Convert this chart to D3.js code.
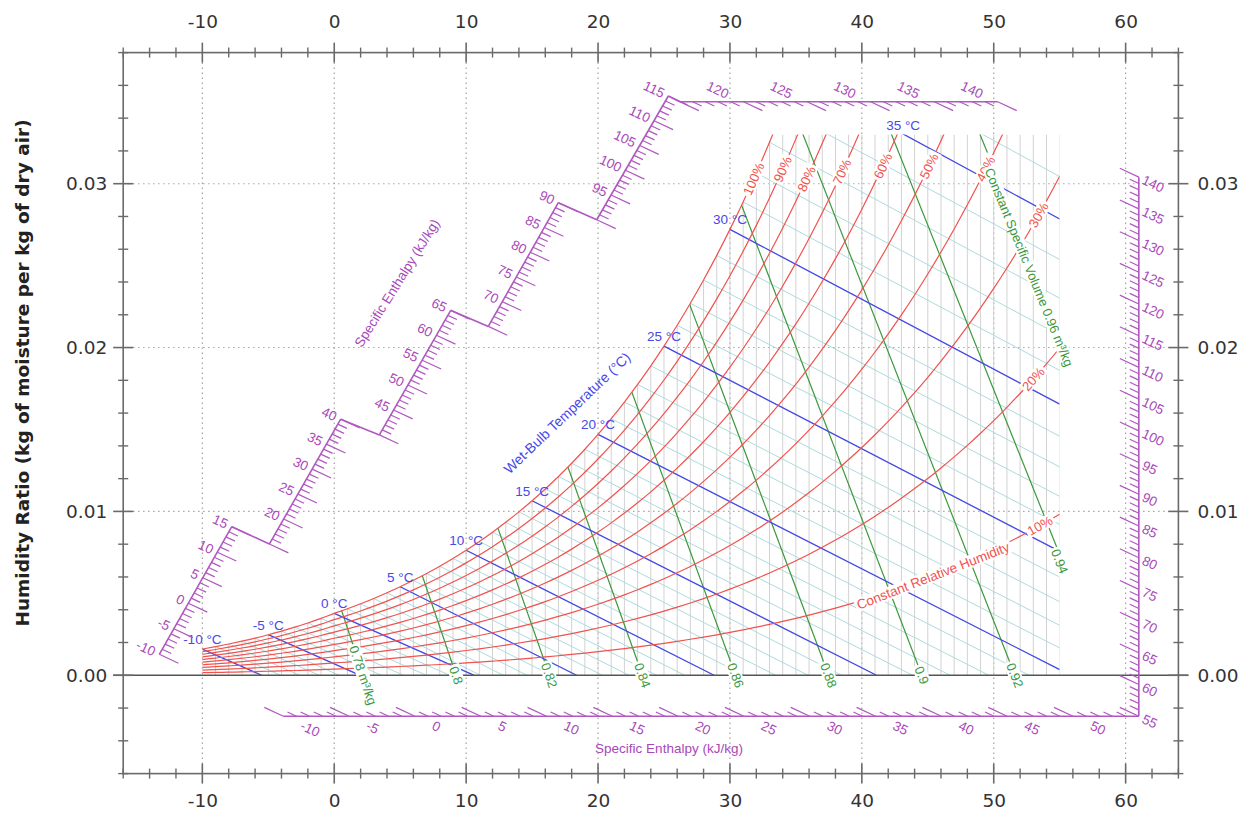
<!DOCTYPE html>
<html><head><meta charset="utf-8">
<script src="https://cdn.jsdelivr.net/npm/d3@7"></script>
<style>
body{margin:0;background:#fff;}
svg{display:block;font-family:"Liberation Sans",Arial,sans-serif;}
</style></head><body>
<svg id="chart" width="1248" height="813"></svg>
<script>
// ================= DATA =================
const dryBulbTemps = [-10,-9,-8,-7,-6,-5,-4,-3,-2,-1,0,1,2,3,4,5,6,7,8,9,10,11,12,13,14,15,16,17,18,19,20,21,22,23,24,25,26,27,28,29,30,31,32,33,34,35,36,37,38,39,40,41,42,43,44,45,46,47,48,49,50,51,52,53,54,55];
// saturation vapour pressure (kPa), over ice below 0 °C
const satVaporPressureKPa = [0.2600,0.2844,0.3102,0.3381,0.3683,0.4017,0.4371,0.4760,0.5176,0.5623,
  0.6112,0.6571,0.7060,0.7581,0.8135,0.8726,0.9354,1.0021,1.0730,1.1482,
  1.2282,1.3130,1.4028,1.4981,1.5990,1.7058,1.8188,1.9384,2.0647,2.1983,
  2.3393,2.4882,2.6453,2.8111,2.9858,3.1699,3.3639,3.5681,3.7831,4.0092,
  4.2470,4.4969,4.7596,5.0354,5.3251,5.6290,5.9479,6.2823,6.6328,7.0002,
  7.3849,7.7878,8.2096,8.6508,9.1124,9.5950,10.099,10.627,11.177,11.752,
  12.352,12.978,13.631,14.312,15.022,15.762];
const rhLevels = [10,20,30,40,50,60,70,80,90,100];
const rhLabelTemps = [53.5,53.0,53.4,49.4,45.1,41.6,38.5,35.8,34.0,31.8];
const wetBulbLabeled = [-10,-5,0,5,10,15,20,25,30,35];
const wetBulbFine = [-10,-9,-8,-7,-6,-5,-4,-3,-2,-1,0,1,2,3,4,5,6,7,8,9,10,11,12,13,14,15,16,17,18,19,20,21,22,23,24,25,26,27,28,29,30,31,32,33,34,35,36];
const specificVolumes = [0.78,0.80,0.82,0.84,0.86,0.88,0.90,0.92,0.94,0.96];
const specificVolumeLabels = ["0.78 m³/kg","0.8","0.82","0.84","0.86","0.88","0.9","0.92","0.94","Constant Specific Volume 0.96 m³/kg"];
const xMajorTicks = [-10,0,10,20,30,40,50,60];
const yMajorTicks = [0.00,0.01,0.02,0.03];
// enthalpy scales (kJ/kg)
const enthalpyDiagRanges = [[-10,15],[15,40],[40,65],[65,90],[90,115]];
const enthalpyTopRange = [115,140];
const enthalpyRightRange = [55,140];
const enthalpyBottomRange = [-10,55];

// ================= LAYOUT =================
const P = 101.325, capW = 0.033;
const diagAnchors = [ // [tBottom,wBottom,tTop,wTop]
  [-13.26,0.00128,-7.77,0.00907],
  [-4.92,0.00801,0.49,0.01563],
  [3.42,0.01467,8.83,0.02227],
  [11.68,0.02129,16.99,0.02884],
  [19.9,0.0278,25.33,0.03535]];
const topAnchor = {w:0.035, t0:26.2, t1:50.3};
const rightAnchor = {t:61, w0:-0.0025, w1:0.0304};
const bottomAnchor = {w:-0.0025, t0:-3.86, t1:61};

const RED="#f0524e", BLUE="#4848e8", GREEN="#3c983c", PURPLE="#b058c0", PURPLE_T="#a848b8";
const TEAL="#addade", VGREY="#d2d2d2", AXIS="#6a6a6a";

const svg = d3.select("#chart");
const x = d3.scaleLinear().domain([-16,64]).range([123.2,1178.4]);
const y = d3.scaleLinear().domain([-0.006,0.038]).range([773.6,52.6]);

// psychrometric relations
function psAt(T){
  let i = Math.floor(T - dryBulbTemps[0]);
  i = Math.max(0, Math.min(dryBulbTemps.length-2, i));
  const f = (T - dryBulbTemps[i])/(dryBulbTemps[i+1]-dryBulbTemps[i]);
  return Math.exp(Math.log(satVaporPressureKPa[i])*(1-f) + Math.log(satVaporPressureKPa[i+1])*f);
}
const wFromE = e => 0.622*e/(P-e);
function wWetBulb(T,twb){
  const ws = wFromE(psAt(twb));
  if (twb > 0) return ((2501-2.326*twb)*ws - 1.006*(T-twb))/(2501+1.86*T-4.186*twb);
  return ((2830-0.24*twb)*ws - 1.006*(T-twb))/(2830+1.86*T-2.1*twb);
}
function tWetBulbAtW(w,twb){
  const ws = wFromE(psAt(twb));
  if (twb > 0) return ((2501-2.326*twb)*ws + 1.006*twb - w*(2501-4.186*twb))/(1.006+1.86*w);
  return ((2830-0.24*twb)*ws + 1.006*twb - w*(2830-2.1*twb))/(1.006+1.86*w);
}
const tSpecVol = (v,w) => v*P/(0.287042*(1+1.6078*w)) - 273.15;
const wSpecVol = (v,T) => (v*P/(0.287042*(T+273.15)) - 1)/1.6078;

const lineGen = d3.line().x(d=>x(d[0])).y(d=>y(d[1])).curve(d3.curveMonotoneX);
const straight = d3.line().x(d=>x(d[0])).y(d=>y(d[1]));

// ================= GRID & FRAME =================
const X0=x(-16), X1=x(64), Y0=y(0.038), Y1=y(-0.006);
const grid = svg.append("g").attr("stroke","#9a9a9a").attr("stroke-width",1.1).attr("stroke-dasharray","1.3,3.7");
grid.selectAll("line.v").data(xMajorTicks).join("line")
  .attr("x1",d=>x(d)).attr("x2",d=>x(d)).attr("y1",Y0).attr("y2",Y1);
grid.selectAll("line.h").data(yMajorTicks.filter(d=>d>0)).join("line")
  .attr("x1",X0).attr("x2",X1).attr("y1",d=>y(d)).attr("y2",d=>y(d));

// ================= PSYCHROMETRIC FIELD =================
const defs = svg.append("defs");
defs.append("clipPath").attr("id","rectClip").append("rect")
  .attr("x",x(-10)).attr("y",y(capW)).attr("width",x(55)-x(-10)).attr("height",y(-0.0003)-y(capW));
const satPts = dryBulbTemps.map((t,i)=>[t, wFromE(satVaporPressureKPa[i])]);
defs.append("clipPath").attr("id","satClip").append("path")
  .attr("d", lineGen(satPts) + `L${x(55)},${y(-0.001)}L${x(-10)},${y(-0.001)}Z`);

const gRect = svg.append("g").attr("clip-path","url(#rectClip)");
const gSat = gRect.append("g").attr("clip-path","url(#satClip)");

// dry-bulb verticals
gSat.append("g").attr("stroke",VGREY).attr("stroke-width",1)
  .selectAll("line").data(dryBulbTemps).join("line")
  .attr("x1",d=>x(d)).attr("x2",d=>x(d)).attr("y1",y(0)).attr("y2",y(capW));

function wetBulbSeg(twb){
  const ws = wFromE(psAt(twb));
  const t0 = tWetBulbAtW(0,twb);
  return t0 <= 55 ? [[twb,ws],[t0,0]] : [[twb,ws],[55,wWetBulb(55,twb)]];
}
// fine wet-bulb lines
gSat.append("g").attr("fill","none").attr("stroke",TEAL).attr("stroke-width",1)
  .selectAll("path").data(wetBulbFine).join("path").attr("d",d=>straight(wetBulbSeg(d)));

// specific volume lines
gSat.append("g").attr("fill","none").attr("stroke",GREEN).attr("stroke-width",1.2)
  .selectAll("path").data(specificVolumes).join("path")
  .attr("d",v=>straight([[tSpecVol(v,0.045),0.045],[tSpecVol(v,0),0]]));

// labelled wet-bulb lines
gSat.append("g").attr("fill","none").attr("stroke",BLUE).attr("stroke-width",1.3)
  .selectAll("path").data(wetBulbLabeled).join("path").attr("d",d=>straight(wetBulbSeg(d)));

// relative humidity curves
const rhSeries = rhLevels.map(rh => dryBulbTemps.map((t,i)=>[t, wFromE(rh/100*satVaporPressureKPa[i])]));
gRect.append("g").attr("fill","none").attr("stroke",RED).attr("stroke-width",1.2)
  .selectAll("path").data(rhSeries).join("path").attr("d",lineGen);

// zero humidity line
svg.append("line").attr("x1",X0-10).attr("x2",X1+10).attr("y1",y(0)).attr("y2",y(0))
  .attr("stroke","#555").attr("stroke-width",1.5);

// ================= LABELS =================
const gLab = svg.append("g");
function bgLabel(text, px, py, angle, color, size){
  const gg = gLab.append("g").attr("transform",`translate(${px},${py}) rotate(${angle})`);
  const r = gg.append("rect").attr("fill","#fff");
  const t = gg.append("text").attr("text-anchor","middle").attr("dy","0.35em")
    .attr("fill",color).attr("font-size",size).text(text);
  const bb = t.node().getBBox();
  r.attr("x",bb.x-2).attr("y",bb.y+1).attr("width",bb.width+4).attr("height",bb.height-2);
}
// RH labels
const rhPx = (T,rh) => [x(T), y(wFromE(rh/100*psAt(T)))];
rhLevels.forEach((rh,i)=>{
  const T = rhLabelTemps[i];
  const p = rhPx(T,rh), a = rhPx(T-0.2,rh), b = rhPx(T+0.2,rh);
  const ang = Math.atan2(b[1]-a[1], b[0]-a[0])*180/Math.PI;
  bgLabel(rh+"%", p[0], p[1], ang, RED, 13.2);
});
{
  const T=45.4, p=rhPx(T,10), a=rhPx(T-0.3,10), b=rhPx(T+0.3,10);
  bgLabel("Constant Relative Humidity", p[0], p[1], Math.atan2(b[1]-a[1],b[0]-a[0])*180/Math.PI, RED, 13.5);
}
// specific volume labels
specificVolumes.forEach((v,i)=>{
  const a=[x(tSpecVol(v,0.045)),y(0.045)], b=[x(tSpecVol(v,0)),y(0)];
  const ang = Math.atan2(b[1]-a[1], b[0]-a[0])*180/Math.PI;
  let T, w;
  if (i === specificVolumes.length-1){ w = 0.0249; T = tSpecVol(v,w); }
  else { T = Math.min(tSpecVol(v,0),55); w = T>=55 ? wSpecVol(v,55) : 0; }
  bgLabel(specificVolumeLabels[i], x(T), y(w), ang, GREEN, 13);
});
// wet-bulb labels
gLab.append("g").attr("fill",BLUE).attr("font-size",13.5).attr("text-anchor","middle")
  .selectAll("text").data(wetBulbLabeled).join("text")
  .each(function(twb){
    let ws = wFromE(psAt(twb)), t = twb;
    if (ws > capW){ t = tWetBulbAtW(capW,twb); ws = capW; }
    d3.select(this).attr("x",x(t)).attr("y",y(ws)-5).text(twb+" °C");
  });
gLab.append("text").attr("transform","translate(567,413) rotate(-43.6)")
  .attr("text-anchor","middle").attr("dy","0.35em").attr("fill",BLUE).attr("font-size",14)
  .text("Wet-Bulb Temperature (°C)");

// ================= ENTHALPY SCALES =================
const ANG = 25, dir = [Math.cos(ANG*Math.PI/180), Math.sin(ANG*Math.PI/180)];
const gScale = svg.append("g").attr("stroke",PURPLE).attr("fill","none");
const gScaleText = svg.append("g").attr("fill",PURPLE_T).attr("font-size",13.5);
const intRange = (a,b) => { const r=[]; for(let h=Math.ceil(a); h<=b; h++) r.push(h); return r; };
function scaleLine(p0,p1){ gScale.append("line").attr("x1",p0[0]).attr("y1",p0[1]).attr("x2",p1[0]).attr("y2",p1[1]).attr("stroke-width",1.6); }
function drawScale(range, p0, p1, sign, labelFilter, labelAnchor, labelDist, labelShift, hMax){
  const [h0,h1] = range;
  const pos = h => { const f=(h-h0)/(h1-h0); return [p0[0]+(p1[0]-p0[0])*f, p0[1]+(p1[1]-p0[1])*f]; };
  scaleLine(p0,p1);
  intRange(h0, hMax===undefined?h1:hMax).forEach(h=>{
    const p=pos(h), L = (h%5===0)?21:10;
    gScale.append("line").attr("x1",p[0]).attr("y1",p[1])
      .attr("x2",p[0]+sign*L*dir[0]).attr("y2",p[1]+sign*L*dir[1]).attr("stroke-width",1.2);
    if (h%5===0 && labelFilter(h)){
      const q=[p[0]+labelDist*dir[0]+labelShift[0], p[1]+labelDist*dir[1]+labelShift[1]];
      gScaleText.append("text").attr("transform",`translate(${q[0]},${q[1]}) rotate(${ANG})`)
        .attr("text-anchor",labelAnchor).attr("dy","0.35em").text(h);
    }
  });
  return pos;
}
const diagEnds = [];
enthalpyDiagRanges.forEach((rg,i)=>{
  const a = diagAnchors[i];
  const p0=[x(a[0]),y(a[1])], p1=[x(a[2]),y(a[3])];
  diagEnds.push([p0,p1]);
  drawScale(rg, p0, p1, 1, h => (h>rg[0] || i===0), "end", -5, [0,0]);
});
const topP0=[x(topAnchor.t0),y(topAnchor.w)], topP1=[x(topAnchor.t1),y(topAnchor.w)];
for (let i=0;i<diagEnds.length;i++){
  const from = diagEnds[i][1], to = (i<diagEnds.length-1) ? diagEnds[i+1][0] : topP0;
  scaleLine(from,to);
}
drawScale(enthalpyTopRange, topP0, topP1, 1, h=>h>115, "end", -17, [0,0]);
drawScale(enthalpyRightRange, [x(rightAnchor.t),y(rightAnchor.w0)], [x(rightAnchor.t),y(rightAnchor.w1)], -1, h=>true, "start", 4.5, [0,0]);
drawScale(enthalpyBottomRange, [x(bottomAnchor.t0),y(bottomAnchor.w)], [x(bottomAnchor.t1),y(bottomAnchor.w)], -1, h=>h<=50, "start", 20, [0,0], 54);
gScaleText.append("text").attr("transform","translate(397,283) rotate(-58)")
  .attr("text-anchor","middle").attr("dy","0.35em").text("Specific Enthalpy (kJ/kg)");
gScaleText.append("text").attr("x",669).attr("y",748)
  .attr("text-anchor","middle").attr("dy","0.35em").text("Specific Enthalpy (kJ/kg)");

// ================= AXES =================
const gAx = svg.append("g").attr("stroke",AXIS);
gAx.append("rect").attr("x",X0).attr("y",Y0).attr("width",X1-X0).attr("height",Y1-Y0)
  .attr("fill","none").attr("stroke-width",1.6);
const xMinor = []; for (let t=-16;t<=64;t+=2) if (t%10!==0) xMinor.push(t);
const yMinor = []; for (let k=-6;k<=38;k+=2) if (k%10!==0) yMinor.push(k/1000);
[Y0,Y1].forEach(yy=>{
  gAx.append("g").selectAll("line").data(xMinor).join("line")
    .attr("x1",d=>x(d)).attr("x2",d=>x(d)).attr("y1",yy-5).attr("y2",yy+5).attr("stroke-width",1.4);
  gAx.append("g").selectAll("line").data(xMajorTicks).join("line")
    .attr("x1",d=>x(d)).attr("x2",d=>x(d)).attr("y1",yy-10).attr("y2",yy+10).attr("stroke-width",1.6);
});
[X0,X1].forEach(xx=>{
  gAx.append("g").selectAll("line").data(yMinor).join("line")
    .attr("y1",d=>y(d)).attr("y2",d=>y(d)).attr("x1",xx-5).attr("x2",xx+5).attr("stroke-width",1.4);
  gAx.append("g").selectAll("line").data(yMajorTicks).join("line")
    .attr("y1",d=>y(d)).attr("y2",d=>y(d)).attr("x1",xx-10).attr("x2",xx+10).attr("stroke-width",1.6);
});
// tick labels via d3 axes
function styleAxis(g){ g.select(".domain").remove(); g.selectAll(".tick line").remove();
  g.selectAll("text").attr("font-family","'DejaVu Sans',sans-serif").attr("font-size",18.5).attr("fill","#333"); }
const intFmt = d => String(d);
svg.append("g").attr("transform",`translate(0,${Y0})`)
  .call(d3.axisTop(x).tickValues(xMajorTicks).tickSize(0).tickPadding(25).tickFormat(intFmt)).call(styleAxis);
svg.append("g").attr("transform",`translate(0,${Y1})`)
  .call(d3.axisBottom(x).tickValues(xMajorTicks).tickSize(0).tickPadding(20).tickFormat(intFmt)).call(styleAxis);
svg.append("g").attr("transform",`translate(${X0},0)`)
  .call(d3.axisLeft(y).tickValues(yMajorTicks).tickSize(0).tickPadding(16).tickFormat(d3.format(".2f"))).call(styleAxis);
svg.append("g").attr("transform",`translate(${X1},0)`)
  .call(d3.axisRight(y).tickValues(yMajorTicks).tickSize(0).tickPadding(19).tickFormat(d3.format(".2f"))).call(styleAxis);

svg.append("text").attr("transform","translate(29,373) rotate(-90)").attr("text-anchor","middle")
  .attr("font-family","'DejaVu Sans',sans-serif").attr("font-weight","bold").attr("font-size",18.5).attr("fill","#222")
  .text("Humidity Ratio (kg of moisture per kg of dry air)");
</script>
</body></html>
